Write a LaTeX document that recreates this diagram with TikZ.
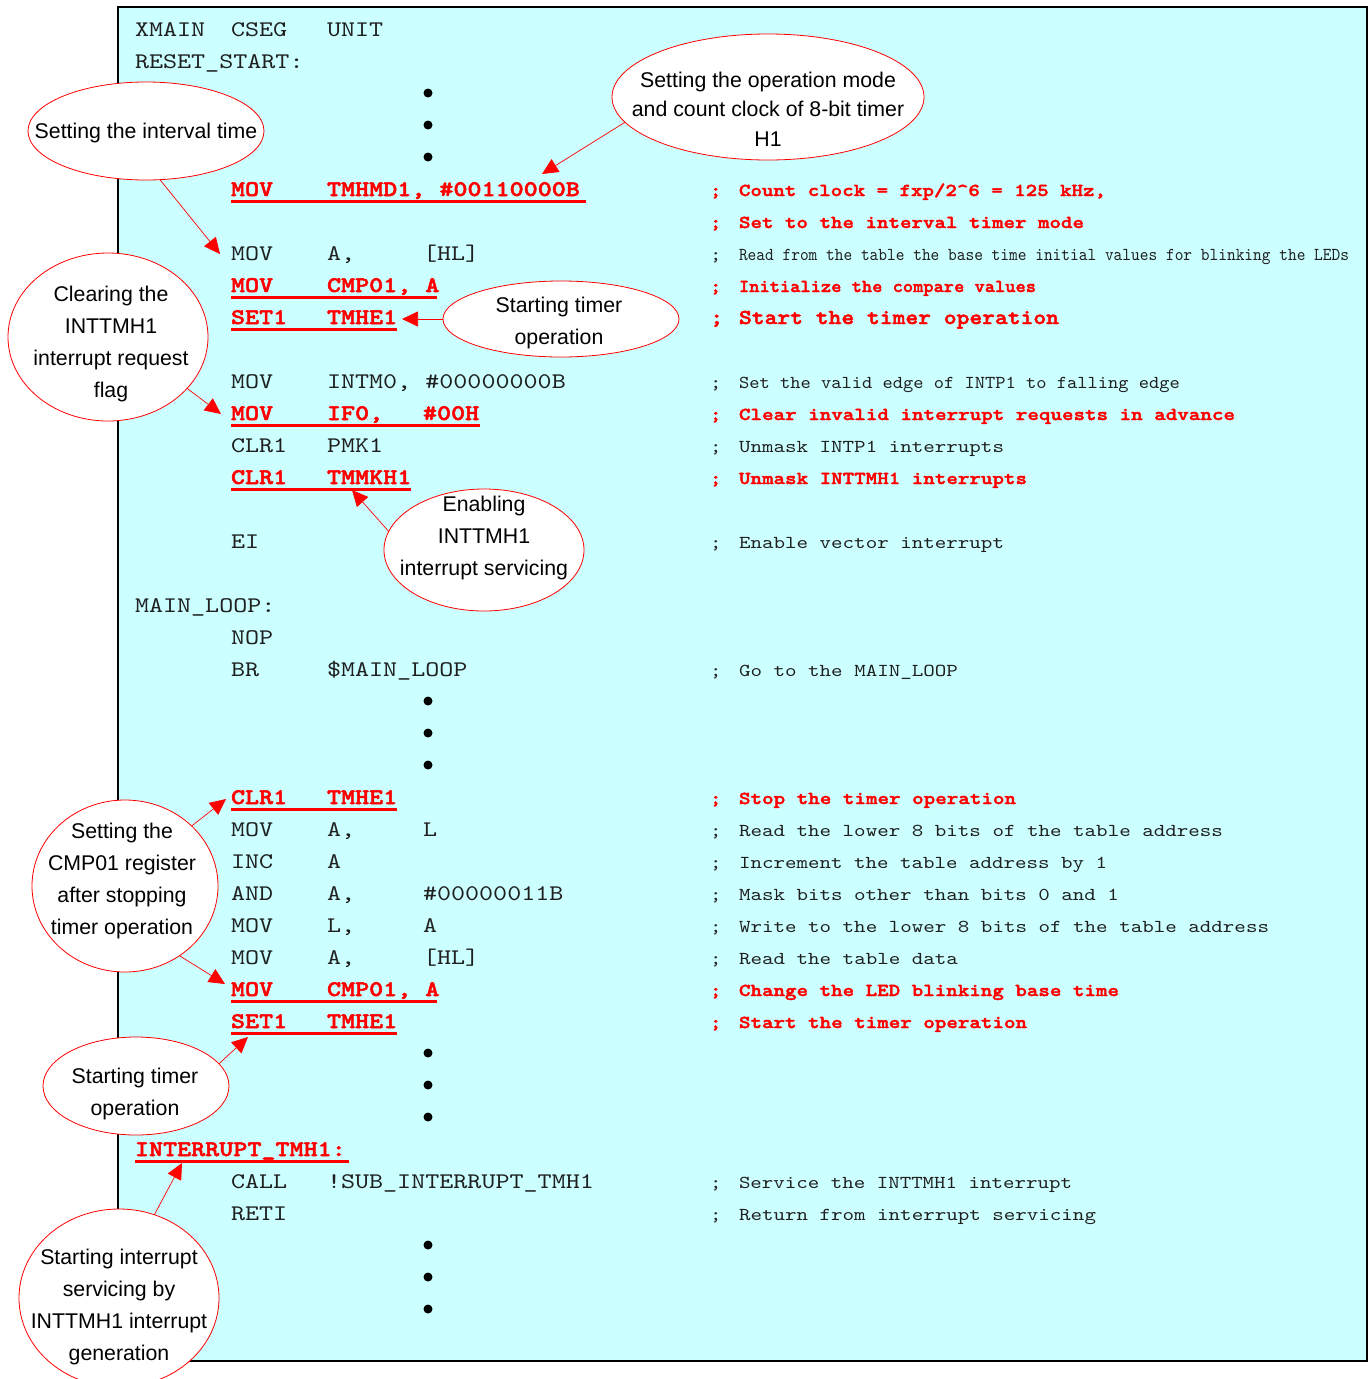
\documentclass[tikz,border=0pt]{standalone}
\usepackage{fontspec}
\usepackage{graphicx}
\setmainfont{Liberation Sans}
\newfontfamily\codefont{lmmono10-regular.otf}[BoldFont=lmmonolt10-bold.otf, BoldFeatures={FakeBold=2.2}, FakeStretch=1.2]
\usetikzlibrary{arrows.meta,shapes.geometric}
\definecolor{panel}{HTML}{CCFFFF}
\definecolor{hot}{HTML}{FF0000}
% stretch or squeeze a piece of text to a given width, keeping its height
\newcommand\fitw[2]{\resizebox{#1pt}{\height}{#2}}
% comment: semicolon, then the text from the comment tab stop
\newcommand\semi[1]{\makebox[29pt][l]{;}#1}

\begin{document}
\begin{tikzpicture}[x=1pt,y=-1pt,
  every node/.style={inner sep=0pt, outer sep=0pt},
  code/.style={anchor=base west, font=\codefont\fontsize{22.3}{28}\selectfont, text=black!88},
  hotcode/.style={anchor=base west, font=\codefont\bfseries\fontsize{22.3}{28}\selectfont, text=hot},
  cmt/.style={anchor=base west, font=\codefont\fontsize{18.2}{24}\selectfont, text=black!88},
  hotcmt/.style={anchor=base west, font=\codefont\bfseries\fontsize{18.2}{24}\selectfont, text=hot},
  bigcmt/.style={anchor=base west, font=\codefont\bfseries\fontsize{21.3}{26}\selectfont, text=hot},
  uline/.style={draw=hot, line width=3pt},
  callout/.style={ellipse, draw=hot, line width=0.8pt, fill=white},
  calltext/.style={align=center, font=\fontsize{21.3}{32}\selectfont, text=black},
  callarrow/.style={draw=hot, line width=0.7pt, -{Triangle[length=16pt,width=15pt]}},
  dotmark/.style={circle, fill=black, minimum size=9pt}
]
\useasboundingbox (0,0) rectangle (1371,1379);

% listing panel
\draw[line width=2pt, fill=panel] (118,7) rectangle (1367,1361);

% ---- listing ----
\node[code] (r0a) at (135,36) {XMAIN};
\node[code] (r0b) at (231,36) {CSEG};
\node[code] (r0c) at (327,36) {UNIT};
\node[code] (r1a) at (135,68) {RESET\_START:};

\foreach \yy/\nm in {93/d1,125/d2,157/d3,701/d4,733/d5,765/d6,1053/d7,1085/d8,1117/d9,1245/d10,1277/d11,1309/d12}
  \node[dotmark] (\nm) at (428,\yy) {};

\node[hotcode] (r5a) at (231,196) {MOV};
\node[hotcode] (r5b) at (327,196) {TMHMD1, \#00110000B};
\draw[uline] (231,201.5) -- (586,201.5);
\node[hotcmt] (k5) at (710,196) {\semi{\fitw{367}{Count clock = fxp/2\textasciicircum 6 = 125 kHz,}}};
\node[hotcmt] (k6) at (710,228) {\semi{\fitw{345}{Set to the interval timer mode}}};

\node[code] (r7a) at (231,260) {MOV};
\node[code] (r7b) at (327,260) {A,};
\node[code] (r7c) at (423,260) {[HL]};
\node[cmt] (k7) at (710,260) {\semi{\fitw{610}{Read from the table the base time initial values for blinking the LEDs}}};

\node[hotcode] (r8a) at (231,292) {MOV};
\node[hotcode] (r8b) at (327,292) {CMP01, A};
\draw[uline] (231,297.5) -- (437,297.5);
\node[hotcmt] (k8) at (710,292) {\semi{\fitw{297}{Initialize the compare values}}};

\node[hotcode] (r9a) at (231,324) {SET1};
\node[hotcode] (r9b) at (327,324) {TMHE1};
\draw[uline] (231,329.5) -- (397,329.5);
\node[bigcmt] (k9) at (710,324) {\semi{\fitw{320}{Start the timer operation}}};

\node[code] (r11a) at (231,388) {MOV};
\node[code] (r11b) at (327,388) {INTM0, \#00000000B};
\node[cmt] (k11) at (710,388) {\semi{\fitw{441}{Set the valid edge of INTP1 to falling edge}}};

\node[hotcode] (r12a) at (231,420) {MOV};
\node[hotcode] (r12b) at (327,420) {IF0,};
\node[hotcode] (r12c) at (423,420) {\#00H};
\draw[uline] (231,425.5) -- (480,425.5);
\node[hotcmt] (k12) at (710,420) {\semi{\fitw{496}{Clear invalid interrupt requests in advance}}};

\node[code] (r13a) at (231,452) {CLR1};
\node[code] (r13b) at (327,452) {PMK1};
\node[cmt] (k13) at (710,452) {\semi{\fitw{265}{Unmask INTP1 interrupts}}};

\node[hotcode] (r14a) at (231,484) {CLR1};
\node[hotcode] (r14b) at (327,484) {TMMKH1};
\draw[uline] (231,489.5) -- (411,489.5);
\node[hotcmt] (k14) at (710,484) {\semi{\fitw{288}{Unmask INTTMH1 interrupts}}};

\node[code] (r16a) at (231,548) {EI};
\node[cmt] (k16) at (710,548) {\semi{\fitw{265}{Enable vector interrupt}}};

\node[code] (r18a) at (135,612) {MAIN\_LOOP:};
\node[code] (r19a) at (231,644) {NOP};
\node[code] (r20a) at (231,676) {BR};
\node[code] (r20b) at (327,676) {\$MAIN\_LOOP};
\node[cmt] (k20) at (710,676) {\semi{\fitw{219}{Go to the MAIN\_LOOP}}};

\node[hotcode] (r24a) at (231,804) {CLR1};
\node[hotcode] (r24b) at (327,804) {TMHE1};
\draw[uline] (231,809.5) -- (397,809.5);
\node[hotcmt] (k24) at (710,804) {\semi{\fitw{277}{Stop the timer operation}}};

\node[code] (r25a) at (231,836) {MOV};
\node[code] (r25b) at (327,836) {A,};
\node[code] (r25c) at (423,836) {L};
\node[cmt] (k25) at (710,836) {\semi{\fitw{484}{Read the lower 8 bits of the table address}}};

\node[code] (r26a) at (231,868) {INC};
\node[code] (r26b) at (327,868) {A};
\node[cmt] (k26) at (710,868) {\semi{\fitw{368}{Increment the table address by 1}}};

\node[code] (r27a) at (231,900) {AND};
\node[code] (r27b) at (327,900) {A,};
\node[code] (r27c) at (423,900) {\#00000011B};
\node[cmt] (k27) at (710,900) {\semi{\fitw{380}{Mask bits other than bits 0 and 1}}};

\node[code] (r28a) at (231,932) {MOV};
\node[code] (r28b) at (327,932) {L,};
\node[code] (r28c) at (423,932) {A};
\node[cmt] (k28) at (710,932) {\semi{\fitw{530}{Write to the lower 8 bits of the table address}}};

\node[code] (r29a) at (231,964) {MOV};
\node[code] (r29b) at (327,964) {A,};
\node[code] (r29c) at (423,964) {[HL]};
\node[cmt] (k29) at (710,964) {\semi{\fitw{219}{Read the table data}}};

\node[hotcode] (r30a) at (231,996) {MOV};
\node[hotcode] (r30b) at (327,996) {CMP01, A};
\draw[uline] (231,1001.5) -- (437,1001.5);
\node[hotcmt] (k30) at (710,996) {\semi{\fitw{380}{Change the LED blinking base time}}};

\node[hotcode] (r31a) at (231,1028) {SET1};
\node[hotcode] (r31b) at (327,1028) {TMHE1};
\draw[uline] (231,1033.5) -- (397,1033.5);
\node[hotcmt] (k31) at (710,1028) {\semi{\fitw{288}{Start the timer operation}}};

\node[hotcode] (r35a) at (135,1156) {INTERRUPT\_TMH1:};
\draw[uline] (135,1161.5) -- (349,1161.5);

\node[code] (r36a) at (231,1188) {CALL};
\node[code] (r36b) at (327,1188) {!SUB\_INTERRUPT\_TMH1};
\node[cmt] (k36) at (710,1188) {\semi{\fitw{333}{Service the INTTMH1 interrupt}}};

\node[code] (r37a) at (231,1220) {RETI};
\node[cmt] (k37) at (710,1220) {\semi{\fitw{357}{Return from interrupt servicing}}};

% ---- callouts ----
\node[callout, minimum width=236pt, minimum height=98pt] (c1) at (146,131) {};
\node[calltext] (c1t) at (146,133) {Setting the interval time};

\node[callout, minimum width=312pt, minimum height=126pt] (c2) at (768,97) {};
\node[calltext, font=\fontsize{21.3}{29.5}\selectfont] (c2t) at (768,109) {Setting the operation mode\\and count clock of 8-bit timer\\H1};

\node[callout, minimum width=200pt, minimum height=168pt] (c3) at (108,337) {};
\node[calltext] (c3t) at (111,344) {Clearing the\\INTTMH1\\interrupt request\\flag};

\node[callout, minimum width=236pt, minimum height=76pt] (c4) at (561,319) {};
\node[calltext] (c4t) at (559,323) {Starting timer\\operation};

\node[callout, minimum width=200pt, minimum height=122pt] (c5) at (484,550) {};
\node[calltext] (c5t) at (484,538) {Enabling\\INTTMH1\\interrupt servicing};

\node[callout, minimum width=186pt, minimum height=172pt] (c6) at (125,886) {};
\node[calltext] (c6t) at (122,881) {Setting the\\CMP01 register\\after stopping\\timer operation};

\node[callout, minimum width=186pt, minimum height=98pt] (c7) at (136,1086) {};
\node[calltext] (c7t) at (135,1094) {Starting timer\\operation};

\node[callout, minimum width=200pt, minimum height=178pt] (c8) at (119,1298) {};
\node[calltext] (c8t) at (119,1307) {Starting interrupt\\servicing by\\INTTMH1 interrupt\\generation};

% ---- pointers ----
\coordinate (t1) at (220,254);
\coordinate (t2) at (542,174);
\coordinate (t3) at (221,414);
\coordinate (t4) at (402,319);
\coordinate (t5) at (352,490);
\coordinate (t6a) at (226,799);
\coordinate (t6b) at (225,984);
\coordinate (t7) at (248,1037);
\coordinate (t8) at (182,1163);

\draw[callarrow] (c1.-74.6) -- (t1);
\draw[callarrow] (c2.190.7) -- (t2);
\draw[callarrow] (c3.-33.9) -- (t3);
\draw[callarrow] (c4.west) -- (t4);
\draw[callarrow] (c5.169.6) -- (t5);
\draw[callarrow] (c6.42.3) -- (t6a);
\draw[callarrow] (c6.-52.2) -- (t6b);
\draw[callarrow] (c7.15.5) -- (t7);
\draw[callarrow] (c8.67.9) -- (t8);
\end{tikzpicture}
\end{document}
